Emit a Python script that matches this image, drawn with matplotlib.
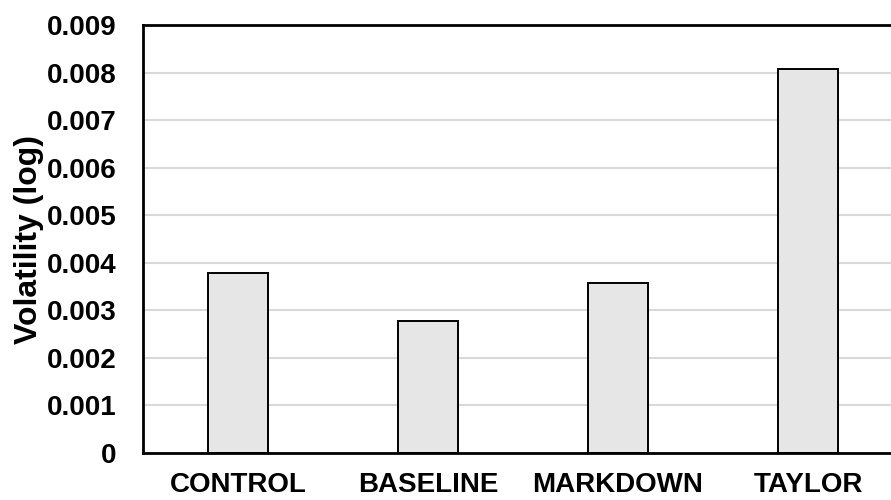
import numpy as np
import matplotlib.pyplot as plt

################################################################################
# data
categories = ["CONTROL", "BASELINE", "MARKDOWN", "TAYLOR"]
volatility = [0.00379, 0.00277, 0.00358, 0.00807]
y_ticks = [0, 0.001, 0.002, 0.003, 0.004, 0.005, 0.006, 0.007, 0.008, 0.009]
y_tick_labels = ["0", "0.001", "0.002", "0.003", "0.004", "0.005",
                 "0.006", "0.007", "0.008", "0.009"]
################################################################################

plt.rcParams['font.family'] = ['Liberation Sans', 'DejaVu Sans']
plt.rcParams['font.weight'] = 'bold'

fig = plt.figure(figsize=(8.91, 5.0), dpi=100)
# plot area runs past the right edge, like the reference
ax = fig.add_axes([143 / 891, 1 - 453 / 500, 760 / 891, 428 / 500])

x = np.arange(len(categories))
ax.bar(x, volatility, width=0.316, color="#e6e6e6", edgecolor="black",
       linewidth=1.4, zorder=3)

ax.set_xlim(-0.5, len(categories) - 0.5)
ax.set_ylim(0, 0.009)
ax.set_yticks(y_ticks)
ax.set_yticklabels(y_tick_labels)
ax.set_xticks(x)
ax.set_xticklabels(categories)

ax.grid(axis='y', color="#d9d9d9", linewidth=1.5, zorder=0)
ax.set_axisbelow(True)

for side in ['left', 'bottom', 'top']:
    ax.spines[side].set_linewidth(2)
    ax.spines[side].set_color("black")
    ax.spines[side].set_zorder(4)
ax.spines['right'].set_visible(False)

ax.tick_params(axis='both', length=0, labelsize=20)
ax.tick_params(axis='y', pad=19)
ax.tick_params(axis='x', pad=14)

ax.set_ylabel("Volatility (log)", fontsize=23, fontweight='bold', labelpad=2)

plt.savefig("out.png", dpi=100)
